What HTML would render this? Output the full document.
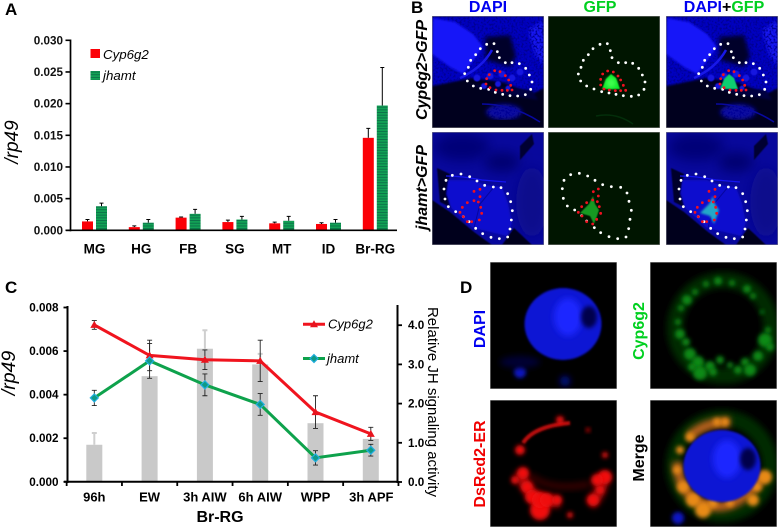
<!DOCTYPE html>
<html>
<head>
<meta charset="utf-8">
<title>Figure</title>
<style>
html,body{margin:0;padding:0;background:#fff;}
#fig{display:block;width:778px;height:527px;}
text{font-family:"Liberation Sans",sans-serif;}
</style>
</head>
<body>
<svg id="fig" xmlns="http://www.w3.org/2000/svg" width="778" height="527" viewBox="0 0 778 527">
<defs>
<pattern id="stripes" width="4" height="2.7" patternUnits="userSpaceOnUse"><rect width="4" height="2.7" fill="#12a255"/><rect y="1.4" width="4" height="0.9" fill="#0b6e48"/></pattern>
<filter id="b05" x="-20%" y="-20%" width="140%" height="140%"><feGaussianBlur stdDeviation="0.6"/></filter>
<filter id="b1" x="-30%" y="-30%" width="160%" height="160%"><feGaussianBlur stdDeviation="1"/></filter>
<filter id="b2" x="-60%" y="-60%" width="220%" height="220%"><feGaussianBlur stdDeviation="2"/></filter>
<filter id="b3" x="-60%" y="-60%" width="220%" height="220%"><feGaussianBlur stdDeviation="3.2"/></filter>
<filter id="b6" x="-60%" y="-60%" width="220%" height="220%"><feGaussianBlur stdDeviation="6"/></filter>
<filter id="speck" x="0" y="0" width="100%" height="100%">
<feTurbulence type="fractalNoise" baseFrequency="0.5" numOctaves="2" seed="4" result="n"/>
<feColorMatrix in="n" type="matrix" values="0 0 0 0 0  0 0 0 0 0  0 0 0 0 0.3  0 0 0 -5 2.7" result="d"/>
<feComposite in="d" in2="SourceGraphic" operator="atop"/>
</filter>
</defs>
<rect width="778" height="527" fill="#fff"/>

<g font-weight="bold" font-size="17" fill="#000">
<text x="5" y="15">A</text>
<text x="411" y="13">B</text>
<text x="5" y="293">C</text>
<text x="460" y="293">D</text>
</g>

<g id="chartA"></g>
<g id="chartC"></g>

<g font-weight="bold" font-size="16" text-anchor="middle">
<text x="488" y="12" fill="#0000f0">DAPI</text>
<text x="600" y="12" fill="#00d020">GFP</text>
<text x="724" y="12"><tspan fill="#0000f0">DAPI</tspan><tspan fill="#000">+</tspan><tspan fill="#00d020">GFP</tspan></text>
</g>
<text transform="translate(427,70) rotate(-90)" text-anchor="middle" font-weight="bold" font-style="italic" font-size="16">Cyp6g2&gt;GFP</text>
<text transform="translate(427,187.5) rotate(-90)" text-anchor="middle" font-weight="bold" font-style="italic" font-size="16">jhamt&gt;GFP</text>

<!-- Panel B row 1 -->
<svg x="432" y="16" width="112" height="112" viewBox="0 0 112 112">
<g id="r1dapi">
<rect width="112" height="112" fill="#00001e"/>
<g filter="url(#speck)">
<path d="M0 0H112V72L100 78L70 66L40 62L0 70Z" fill="#0606c0" filter="url(#b1)"/>
<path d="M96 14L112 4V50L104 40Z" fill="#1414f0" filter="url(#b2)"/>
<ellipse cx="72" cy="96" rx="18" ry="8" fill="#0808a0" filter="url(#b2)"/>
</g>
<path d="M1 2L23 6L41 18L51 31L41 45L31 58L18 51L0 38Z" fill="#1818f8" filter="url(#b1)"/>
<path d="M53 21L78 19L84 40L78 51L54 44Z" fill="#00002c" filter="url(#b2)"/>
<path d="M28 62Q50 52 60 34" stroke="#1818e8" stroke-width="2.5" fill="none"/>
<path d="M36 68L100 74L106 84L70 78Z" fill="#000040" filter="url(#b1)"/>
<g fill="#1414e0" filter="url(#b05)"><circle cx="45" cy="62" r="3.5"/><circle cx="58" cy="60" r="3.5"/><circle cx="70" cy="58" r="3.5"/><circle cx="80" cy="62" r="3.5"/><circle cx="88" cy="56" r="3.5"/><circle cx="66" cy="68" r="3"/><circle cx="52" cy="70" r="3"/><circle cx="76" cy="72" r="2.5"/></g>
<path d="M50 88Q80 88 108 106" stroke="#0808a0" stroke-width="1.6" fill="none"/>
</g>
<rect width="112" height="112" fill="none" stroke="#888" stroke-width="1"/>
</svg>
<svg x="548" y="16" width="112" height="112" viewBox="0 0 112 112">
<rect width="112" height="112" fill="#001500"/>
<path d="M54 73L58 63L63 58L68 62L72 73Z" fill="#0ce82a" filter="url(#b05)"/>
<circle cx="63" cy="67" r="5" fill="#40ff50" filter="url(#b2)"/>
<path d="M48 100Q68 96 85 108" stroke="#032e0a" stroke-width="1.5" fill="none"/>
<rect width="112" height="112" fill="none" stroke="#888" stroke-width="1"/>
</svg>
<svg x="666" y="16" width="112" height="112" viewBox="0 0 112 112">
<use href="#r1dapi"/>
<path d="M54 73L58 63L63 58L68 62L72 73Z" fill="#10d070" filter="url(#b05)"/>
<rect width="112" height="112" fill="none" stroke="#888" stroke-width="1"/>
</svg>

<!-- Panel B row 2 -->
<svg x="432" y="132" width="112" height="113" viewBox="0 0 112 113">
<g id="r2dapi">
<rect width="112" height="113" fill="#08089c"/>
<ellipse cx="30" cy="15" rx="28" ry="14" fill="#050578" filter="url(#b6)"/>
<ellipse cx="70" cy="30" rx="18" ry="10" fill="#050570" filter="url(#b6)"/>
<ellipse cx="100" cy="70" rx="16" ry="35" fill="#07078c" filter="url(#b6)"/>
<path d="M88 14L100 2L102 12L88 28Z" fill="#000030" filter="url(#b05)"/>
<path d="M0 68L18 80L42 100L60 113H0Z" fill="#00001e" filter="url(#b05)"/>
<path d="M82 96L100 113H70Z" fill="#00001e" filter="url(#b05)"/>
<path d="M5 36L18 42L14 62L20 76L8 70Z" fill="#00002a" filter="url(#b05)"/>
<path d="M16 48L41 48L53 53L70 55L76 71L80 91L75 104L41 96L18 75L15 61Z" fill="#0a0ace" filter="url(#b1)"/>
<path d="M42 96L48 72L62 55" stroke="#0606a0" stroke-width="1" fill="none"/>
<path d="M14 44Q30 44 50 48L74 50" stroke="#1414f0" stroke-width="1.2" fill="none"/>
</g>
<rect width="112" height="113" fill="none" stroke="#888" stroke-width="1"/>
</svg>
<svg x="548" y="132" width="112" height="113" viewBox="0 0 112 113">
<rect width="112" height="113" fill="#001500"/>
<path d="M45 64L41 72L32 81L42 84L46 92L49 84L51 78L47 72Z" fill="#129a24" filter="url(#b05)"/>
<rect width="112" height="113" fill="none" stroke="#888" stroke-width="1"/>
</svg>
<svg x="666" y="132" width="112" height="113" viewBox="0 0 112 113">
<use href="#r2dapi"/>
<path d="M47 64L43 72L34 81L44 84L48 92L51 84L53 78L49 72Z" fill="#20a8c8" filter="url(#b1)"/>
<rect width="112" height="113" fill="none" stroke="#888" stroke-width="1"/>
</svg>
<g id="bDots"></g>

<!-- Panel D -->
<svg x="490" y="262" width="127" height="127" viewBox="0 0 127 127">
<rect width="127" height="127" fill="#000"/>
<g id="nucleus">
<ellipse cx="73" cy="62" rx="38.5" ry="36" fill="#0a12d4" filter="url(#b1)"/>
<ellipse cx="78" cy="55" rx="14" ry="19" fill="#1c28ff" filter="url(#b3)"/>
<ellipse cx="99" cy="55" rx="8" ry="11" fill="#00054c" filter="url(#b2)"/>
</g>
<circle cx="30" cy="110" r="6" fill="#0a14c8" filter="url(#b2)"/>
<circle cx="75" cy="119" r="5" fill="#06108c" filter="url(#b3)"/>
<ellipse cx="30" cy="100" rx="20" ry="6" fill="#000434" filter="url(#b3)"/>
<rect width="127" height="127" fill="none" stroke="#aaa" stroke-width="1"/>
</svg>
<svg x="650" y="262" width="127" height="127" viewBox="0 0 127 127">
<rect width="127" height="127" fill="#000"/>
<circle cx="73" cy="66" r="48" fill="none" stroke="#022a06" stroke-width="16" filter="url(#b3)"/>
<g id="greenBlobs"></g>
<rect width="127" height="127" fill="none" stroke="#aaa" stroke-width="1"/>
</svg>
<svg x="490" y="400" width="127" height="127" viewBox="0 0 127 127">
<rect width="127" height="127" fill="#000"/>
<path d="M33 43Q44 26 80 23" fill="none" stroke="#c00c0c" stroke-width="4" filter="url(#b1)"/>
<path d="M40 75Q60 92 100 84" fill="none" stroke="#3a0303" stroke-width="6" filter="url(#b3)"/>
<path d="M30 72Q38 102 70 102M114 74Q112 94 100 104" fill="none" stroke="#a80a0a" stroke-width="11" filter="url(#b3)"/>
<g id="redBlobs"></g>
<rect width="127" height="127" fill="none" stroke="#aaa" stroke-width="1"/>
</svg>
<svg x="650" y="400" width="127" height="127" viewBox="0 0 127 127">
<rect width="127" height="127" fill="#000"/>
<circle cx="72" cy="66" r="48" fill="none" stroke="#032a06" stroke-width="16" filter="url(#b3)"/>
<path d="M27 62Q30 100 62 106Q90 110 114 74M40 36Q55 22 80 22" fill="none" stroke="#b8601a" stroke-width="10" filter="url(#b3)"/>
<g id="orangeBlobs"></g>
<g transform="translate(-1,4)"><use href="#nucleus"/></g>
<circle cx="28" cy="118" r="6" fill="#0a14c8" filter="url(#b2)"/>
<rect width="127" height="127" fill="none" stroke="#aaa" stroke-width="1"/>
</svg>

<g font-weight="bold" font-size="16" text-anchor="middle">
<text transform="translate(485,329) rotate(-90)" fill="#0000f0">DAPI</text>
<text transform="translate(644,331) rotate(-90)" fill="#00d020">Cyp6g2</text>
<text transform="translate(485,464) rotate(-90)" fill="#f00000">DsRed2-ER</text>
<text transform="translate(644,458) rotate(-90)" fill="#000">Merge</text>
</g>
</svg>

<script>
// ---------- chart A data ----------
const tissues = ['MG','HG','FB','SG','MT','ID','Br-RG'];
const cypTissue = [0.0014,0.0005,0.0020,0.0013,0.0011,0.0010,0.0146];
const cypTissueErr = [0.0003,0.0002,0.0001,0.0003,0.0002,0.0002,0.0015];
const jhamtTissue = [0.0038,0.0012,0.0026,0.0017,0.0015,0.0012,0.0197];
const jhamtTissueErr = [0.0005,0.0005,0.0007,0.0005,0.0007,0.0005,0.0060];
const ticksA = ['0.000','0.005','0.010','0.015','0.020','0.025','0.030'];

// ---------- chart C data ----------
const stages = ['96h','EW','3h AIW','6h AIW','WPP','3h APF'];
const cypStage = [0.0072,0.0058,0.0056,0.00555,0.0032,0.0022];
const cypStageErr = [0.0002,0.0007,0.00045,0.00095,0.00075,0.0003];
const jhamtStage = [0.00385,0.00555,0.00445,0.00355,0.0011,0.00145];
const jhamtStageErr = [0.00035,0.0008,0.0005,0.0005,0.00033,0.00027];
const jhActivity = [0.95,2.7,3.4,3.0,1.5,1.1];
const jhActivityErr = [0.3,0,0.47,0.27,0,0];
const ticksLeftC = ['0.000','0.002','0.004','0.006','0.008'];
const ticksRightC = ['0.0','1.0','2.0','3.0','4.0'];

const NS = 'http://www.w3.org/2000/svg';
function mk(parent, tag, attrs, txt) {
  const e = document.createElementNS(NS, tag);
  for (const k in attrs) e.setAttribute(k, attrs[k]);
  if (txt !== undefined) e.textContent = txt;
  parent.appendChild(e);
  return e;
}
function name(e, n) {
  
  
  return e;
}

// ---------- chart A ----------
(function () {
  const g = document.getElementById('chartA');
  const yA = v => 230.3 - v / 0.03 * 190;
  const xA = i => 94.5 + i * 46.8;
  function errUp(x, v, err, n) {
    const ln = mk(g, 'path', {d:`M${x} ${yA(v)}V${yA(v + err)}M${x - 2} ${yA(v + err)}H${x + 2}`, stroke:'#000', 'stroke-width':1, fill:'none'});
    name(ln, n);
  }
  tissues.forEach((t, i) => {
    const c = xA(i);
    errUp(c - 7, cypTissue[i], cypTissueErr[i], 'cyp6g2-error-bar');
    errUp(c + 7, jhamtTissue[i], jhamtTissueErr[i], 'jhamt-error-bar');
    const r = mk(g, 'rect', {x:c - 12.5, y:yA(cypTissue[i]), width:11, height:yA(0) - yA(cypTissue[i]), fill:'#fb0007'});
    name(r, 'cyp6g2-bar');
    const b = mk(g, 'rect', {x:c + 1.5, y:yA(jhamtTissue[i]), width:11, height:yA(0) - yA(jhamtTissue[i]), fill:'url(#stripes)'});
    name(b, 'jhamt-bar');
    const l = mk(g, 'text', {x:c, y:253.5, 'text-anchor':'middle', 'font-weight':'bold', 'font-size':13.5}, t);
    name(l, 'x-tick-label');
  });
  ticksA.forEach(t => {
    const y = yA(parseFloat(t));
    const tk = mk(g, 'line', {x1:65.5, x2:71, y1:y, y2:y, stroke:'#000', 'stroke-width':1.6});
    name(tk, 'y-tick');
    const l = mk(g, 'text', {x:63, y:y + 4, 'text-anchor':'end', 'font-weight':'bold', 'font-size':11.7, fill:'#111'}, t);
    name(l, 'y-tick-label');
  });
  const ya = mk(g, 'line', {x1:70.5, x2:70.5, y1:yA(0.03) - 0.8, y2:yA(0) + 1, stroke:'#000', 'stroke-width':1.7});
  name(ya, 'y-axis');
  const xa = mk(g, 'line', {x1:66, x2:397, y1:yA(0), y2:yA(0), stroke:'#000', 'stroke-width':1.7});
  name(xa, 'x-axis');
  const ttl = mk(g, 'text', {transform:'translate(18,142) rotate(-90)', 'text-anchor':'middle', 'font-style':'italic', 'font-size':19}, '/rp49');
  name(ttl, 'y-axis-title');
  const s1 = mk(g, 'rect', {x:90.5, y:49, width:9.5, height:9, fill:'#fb0007'});
  name(s1, 'legend-swatch-cyp6g2');
  const t1 = mk(g, 'text', {x:103, y:59, 'font-style':'italic', 'font-size':13.3}, 'Cyp6g2');
  name(t1, 'legend-label-cyp6g2');
  const s2 = mk(g, 'rect', {x:90.5, y:71, width:9.5, height:9, fill:'url(#stripes)'});
  name(s2, 'legend-swatch-jhamt');
  const t2 = mk(g, 'text', {x:103, y:80, 'font-style':'italic', 'font-size':13.3}, 'jhamt');
  name(t2, 'legend-label-jhamt');
})();

// ---------- chart C ----------
(function () {
  const g = document.getElementById('chartC');
  const yL = v => 481.8 - v / 0.008 * 174.3;
  const yR = v => 482 - v * 39.2;
  const xC = i => 94.3 + i * 55.3;
  stages.forEach((s, i) => {
    const x = xC(i);
    if (jhActivityErr[i] > 0) {
      const top = yR(jhActivity[i] + jhActivityErr[i]);
      const ge = mk(g, 'path', {d:`M${x} ${yR(jhActivity[i])}V${top}M${x - 2.5} ${top}H${x + 2.5}`, stroke:'#cfcfcf', 'stroke-width':2, fill:'none'});
      name(ge, 'jh-activity-error-bar');
    }
    const b = mk(g, 'rect', {x:x - 8, y:yR(jhActivity[i]), width:16, height:yR(0) - yR(jhActivity[i]), fill:'#c9c9c9'});
    name(b, 'jh-activity-bar');
    const l = mk(g, 'text', {x:x - (i === 5 ? -0.5 : 0), y:501.5, 'text-anchor':'middle', 'font-weight':'bold', 'font-size':13}, s);
    name(l, 'x-tick-label');
  });
  ticksLeftC.forEach(t => {
    const y = yL(parseFloat(t));
    const tk = mk(g, 'line', {x1:63.5, x2:68, y1:y, y2:y, stroke:'#000', 'stroke-width':1.8});
    name(tk, 'left-y-tick');
    const l = mk(g, 'text', {x:58.5, y:y + 4, 'text-anchor':'end', 'font-weight':'bold', 'font-size':11.7}, t);
    name(l, 'left-y-tick-label');
  });
  ticksRightC.forEach(t => {
    const y = yR(parseFloat(t));
    const tk = mk(g, 'line', {x1:397, x2:402, y1:y, y2:y, stroke:'#000', 'stroke-width':1.8});
    name(tk, 'right-y-tick');
    const l = mk(g, 'text', {x:408, y:y + 4, 'font-weight':'bold', 'font-size':11.7}, t);
    name(l, 'right-y-tick-label');
  });
  for (let i = 0; i <= stages.length; i++) {
    const x = xC(i) - 27.65;
    const tk = mk(g, 'line', {x1:x, x2:x, y1:481, y2:486, stroke:'#000', 'stroke-width':1.8});
    name(tk, 'x-tick');
  }
  const al = mk(g, 'line', {x1:67.5, x2:67.5, y1:306, y2:483, stroke:'#000', 'stroke-width':2});
  name(al, 'left-y-axis');
  const ar = mk(g, 'line', {x1:397.5, x2:397.5, y1:305, y2:483, stroke:'#000', 'stroke-width':2});
  name(ar, 'right-y-axis');
  const ax = mk(g, 'line', {x1:64, x2:398, y1:481.8, y2:481.8, stroke:'#000', 'stroke-width':2});
  name(ax, 'x-axis');

  function errs(vals, es, n) {
    vals.forEach((v, i) => {
      const x = xC(i), a = yL(v + es[i]), b = yL(v - es[i]);
      const e = mk(g, 'path', {d:`M${x} ${a}V${b}M${x - 2.5} ${a}H${x + 2.5}M${x - 2.5} ${b}H${x + 2.5}`, stroke:'#222', 'stroke-width':0.9, fill:'none'});
      name(e, n);
    });
  }
  errs(cypStage, cypStageErr, 'cyp6g2-error-bar');
  errs(jhamtStage, jhamtStageErr, 'jhamt-error-bar');

  const cl = mk(g, 'polyline', {points:cypStage.map((v, i) => xC(i) + ',' + yL(v)).join(' '), fill:'none', stroke:'#f0141e', 'stroke-width':3});
  name(cl, 'cyp6g2-line');
  const jl = mk(g, 'polyline', {points:jhamtStage.map((v, i) => xC(i) + ',' + yL(v)).join(' '), fill:'none', stroke:'#0ea24c', 'stroke-width':3});
  name(jl, 'jhamt-line');

  function tri(x, y, n) {
    const p = mk(g, 'path', {d:`M${x} ${y - 4}L${x + 4} ${y + 3}H${x - 4}Z`, fill:'#e8141e'});
    name(p, n);
  }
  function dia(x, y, n) {
    const p = mk(g, 'path', {d:`M${x} ${y - 4}L${x + 4} ${y}L${x} ${y + 4}L${x - 4} ${y}Z`, fill:'#0f9a86', stroke:'#22aee0', 'stroke-width':1.2});
    name(p, n);
  }
  cypStage.forEach((v, i) => tri(xC(i), yL(v), 'cyp6g2-point'));
  jhamtStage.forEach((v, i) => dia(xC(i), yL(v), 'jhamt-point'));

  const ll1 = mk(g, 'line', {x1:303, x2:325, y1:324.3, y2:324.3, stroke:'#f0141e', 'stroke-width':3});
  name(ll1, 'legend-line-cyp6g2');
  tri(314, 324.3, 'legend-marker-cyp6g2');
  const lt1 = mk(g, 'text', {x:328, y:328.5, 'font-style':'italic', 'font-size':13}, 'Cyp6g2');
  name(lt1, 'legend-label-cyp6g2');
  const ll2 = mk(g, 'line', {x1:303, x2:325, y1:358.5, y2:358.5, stroke:'#0ea24c', 'stroke-width':3});
  name(ll2, 'legend-line-jhamt');
  dia(314, 358.5, 'legend-marker-jhamt');
  const lt2 = mk(g, 'text', {x:327, y:363, 'font-style':'italic', 'font-size':13}, 'jhamt');
  name(lt2, 'legend-label-jhamt');

  const t1 = mk(g, 'text', {transform:'translate(15,373) rotate(-90)', 'text-anchor':'middle', 'font-style':'italic', 'font-size':19.5}, '/rp49');
  name(t1, 'left-y-axis-title');
  const t2 = mk(g, 'text', {transform:'translate(428,402) rotate(90)', 'text-anchor':'middle', 'font-size':15}, 'Relative JH signaling activity');
  name(t2, 'right-y-axis-title');
  const t3 = mk(g, 'text', {x:220, y:522, 'text-anchor':'middle', 'font-weight':'bold', 'font-size':16}, 'Br-RG');
  name(t3, 'x-axis-title');
})();

// ---------- microscopy outline dots (traced on the panel B figure) ----------
const outlineCypWhite = [[230,133],[252,131],[211,146],[197,164],[182,181],[175,202],[164,221],[172,243],[190,258],[212,265],[236,268],[256,277],[278,283],[300,287],[323,288],[346,284],[362,268],[366,246],[358,225],[347,205],[328,191],[306,188],[286,188],[268,173],[262,155]];
const outlineCypRed = [[238,224],[254,212],[270,215],[286,227],[296,240],[302,256],[306,270],[292,271],[276,271],[258,270],[240,263],[228,252],[230,236]];
const outlineCypGfpWhite = [[570,133],[592,131],[549,146],[535,164],[520,181],[513,202],[505,222],[512,243],[530,258],[552,267],[575,275],[597,279],[618,283],[640,287],[664,289],[686,285],[702,268],[705,246],[697,225],[686,205],[668,190],[647,188],[625,188],[606,173],[601,152]];
const outlineCypGfpRed = [[578,222],[593,213],[610,216],[624,228],[632,240],[640,256],[647,271],[632,272],[616,272],[598,270],[582,267],[572,255],[572,238]];
const outlineJhWhite = [[127,526],[153,522],[179,530],[201,543],[224,556],[250,561],[273,563],[293,581],[302,605],[307,632],[304,660],[300,687],[293,711],[268,716],[243,712],[218,701],[197,685],[177,665],[160,650],[137,635],[115,620],[105,597],[102,567],[108,541]];
const outlineJhRed = [[210,568],[192,574],[210,590],[192,602],[205,606],[172,608],[157,622],[150,637],[160,650],[172,665],[185,665],[208,660],[215,640],[212,622]];
const outlineJhGfpWhite = [[482,524],[508,520],[533,528],[555,541],[578,554],[604,560],[632,562],[651,579],[657,604],[664,631],[660,658],[656,686],[648,711],[623,716],[597,710],[572,698],[553,683],[530,663],[515,647],[494,630],[472,618],[460,595],[457,566],[462,541]];
const outlineJhGfpRed = [[565,567],[550,575],[565,588],[548,600],[562,605],[530,608],[515,620],[505,637],[516,648],[530,665],[548,672],[560,658],[572,640],[568,620]];

(function () {
  const g = document.getElementById('bDots');
  function dots(list, dx, fill) {
    list.forEach(p => {
      const c = mk(g, 'circle', {cx:410 + (p[0] + dx) / 3, cy:p[1] / 3, r:1.4, fill:fill});
      name(c, 'outline-dot');
    });
  }
  dots(outlineCypWhite, 0, '#fff');
  dots(outlineCypRed, 0, '#f01020');
  dots(outlineCypGfpWhite, 0, '#fff');
  dots(outlineCypGfpRed, 0, '#f01020');
  dots(outlineCypWhite, 702, '#fff');
  dots(outlineCypRed, 702, '#f01020');
  dots(outlineJhWhite, 0, '#fff');
  dots(outlineJhRed, 0, '#f01020');
  dots(outlineJhGfpWhite, 0, '#fff');
  dots(outlineJhGfpRed, 0, '#f01020');
  dots(outlineJhWhite, 705, '#fff');
  dots(outlineJhRed, 705, '#f01020');
})();

// ---------- fluorescence blobs (local panel coordinates: x, y, radius) ----------
const greenSpots = [[68,19,4],[56,22,3],[82,21,3],[97,27,4],[103,34,3],[45,30,3],[37,38,5],[31,46,3],[28,60,3],[30,72,5],[36,80,4],[40,92,6],[48,100,6],[50,111,7],[60,104,5],[42,105,4],[70,98,4],[63,110,4],[80,103,3],[95,100,4],[100,108,6],[88,108,4],[108,94,5],[115,78,7],[118,68,3],[120,85,4],[112,50,2]];
const redSpots = [[70,20,4],[30,50,5],[33,73,6],[25,80,4],[37,87,6],[42,97,7],[50,110,10],[50,100,8],[57,100,7],[67,100,5],[80,115,3],[115,77,7],[107,80,6],[103,100,6],[110,90,4],[115,55,3],[98,30,2]];
const orangeSpots = [[67,22,4],[75,22,4],[40,37,5],[30,50,4],[27,70,4],[33,87,6],[43,100,7],[53,110,8],[63,103,5],[80,103,4],[103,100,6],[115,77,7],[107,87,5]];
(function () {
  function spots(id, list, color, n) {
    const g = document.getElementById(id);
    list.forEach(s => {
      const c = mk(g, 'circle', {cx:s[0], cy:s[1], r:s[2], fill:color, filter:'url(#b2)'});
      name(c, n);
    });
  }
  spots('greenBlobs', greenSpots, '#0a8a18', 'cyp6g2-signal');
  spots('redBlobs', redSpots, '#f01010', 'dsred-signal');
  spots('orangeBlobs', orangeSpots, '#e88a18', 'colocalized-signal');
})();
</script>
</body>
</html>
